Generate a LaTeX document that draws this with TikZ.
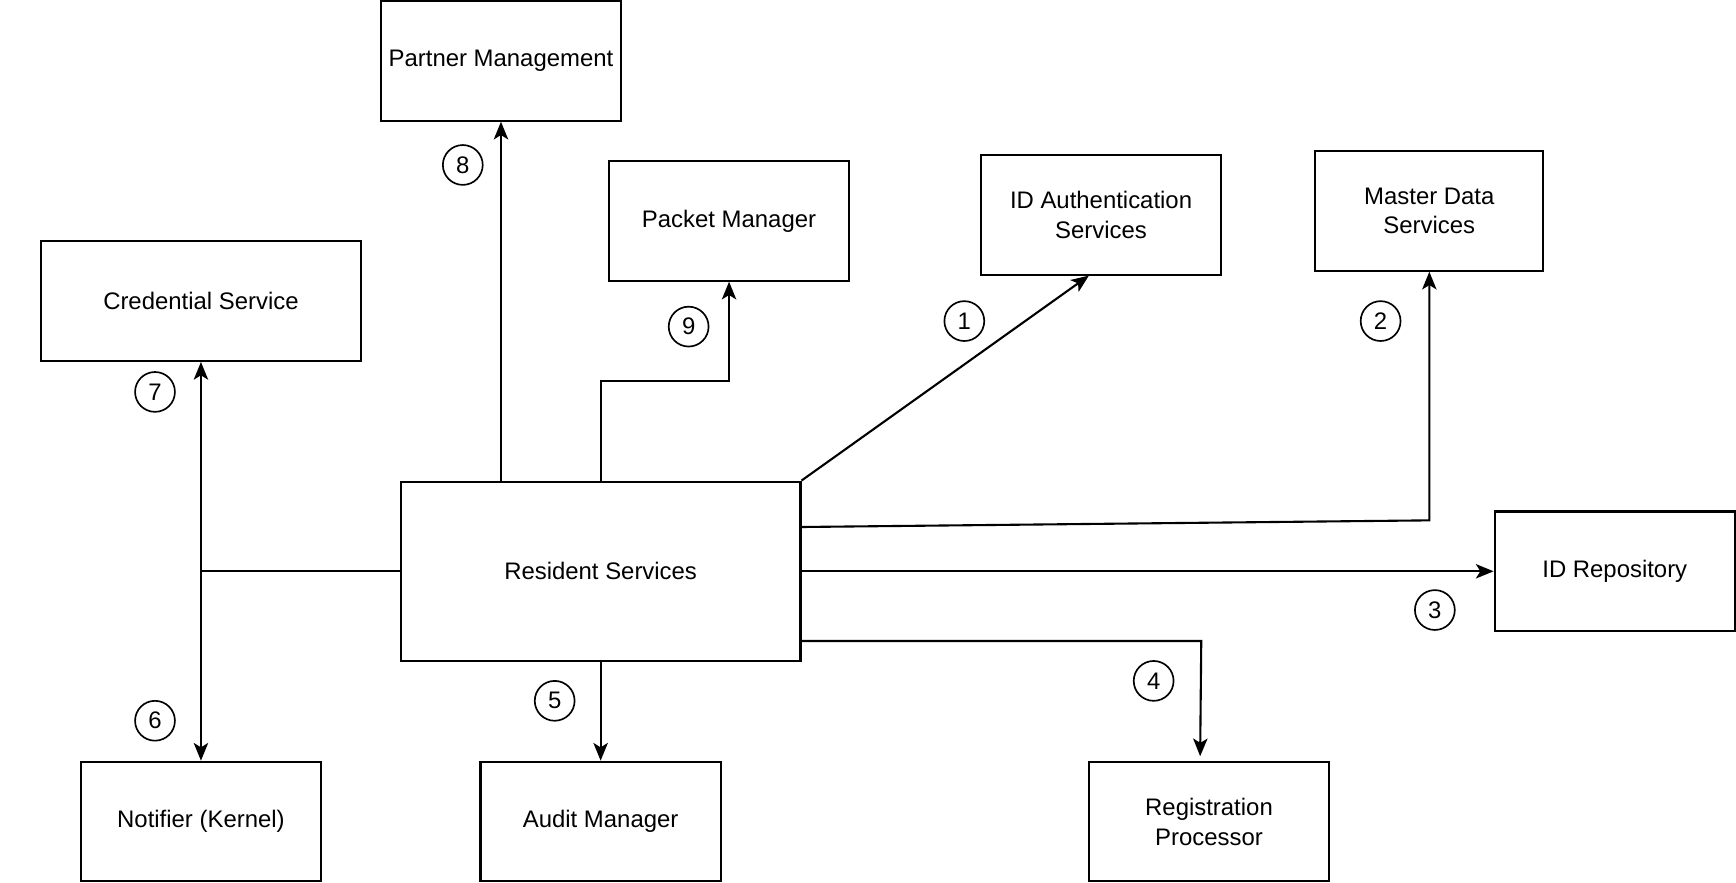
\documentclass[tikz,border=0pt]{standalone}
\usepackage{fontspec}
\setmainfont{Liberation Sans}
\usetikzlibrary{arrows.meta,calc}
\begin{document}
\begin{tikzpicture}[x=1pt,y=-1pt,line width=1.9pt,
    svcbox/.style={draw,rectangle,minimum width=217pt,minimum height=108pt,align=center,inner sep=2pt,
      font=\fontsize{21.6}{27}\selectfont},
    numtag/.style={draw,circle,line width=1.5pt,minimum size=36pt,inner sep=0pt,font=\fontsize{21.6}{26}\selectfont},
    arr/.style={-{Stealth[length=16pt,width=13pt,inset=4pt]}}]
        \useasboundingbox (0,0) rectangle (1568,797);

        \node[svcbox] (pm) at (452.5,55) {Partner Management};
        \node[svcbox] (pkt) at (658.5,199.5) {Packet Manager};
        \node[svcbox] (ida) at (994.5,194) {ID Authentication\\Services};
        \node[svcbox,minimum width=206pt] (mds) at (1291,190.5) {Master Data\\Services};
        \node[svcbox,minimum width=289pt] (cred) at (181.5,272) {Credential Service};
        \node[svcbox,minimum width=361pt,minimum height=162pt] (res) at (542.5,516) {Resident Services};
        \node[svcbox] (idr) at (1458.5,516) {ID Repository};
        \node[svcbox] (ntf) at (181.5,742) {Notifier (Kernel)};
        \node[svcbox] (aud) at (542.5,742) {Audit Manager};
        \node[svcbox,minimum width=216pt] (reg) at (1092,742) {Registration\\Processor};

        \node[numtag] (n1) at (871,290) {1};
        \node[numtag] (n2) at (1247,290) {2};
        \node[numtag] (n3) at (1296,551) {3};
        \node[numtag] (n4) at (1042,615) {4};
        \node[numtag] (n5) at (501,633) {5};
        \node[numtag] (n6) at (140,651) {6};
        \node[numtag] (n7) at (140,354) {7};
        \node[numtag] (n8) at (418,149) {8};
        \node[numtag] (n9) at (622,295) {9};

        \coordinate (j) at (cred.south |- res.west);
        \draw (res.west) -- (j);
        \draw[arr] (j) -- (cred.south);
        \draw[arr] (j) -- (ntf.north);

        \draw[arr] (pm.south |- res.north) -- (pm.south);
        \draw[arr] (res.north) -- ++(0,-90) -| (pkt.south);
        \draw[arr] (res.north east) -- ([xshift=-11pt]ida.south);
        \draw[arr] ([yshift=40pt]res.east) -- (mds.south |- 0,470) -- (mds.south);
        \draw[arr] (res.east) -- (idr.west);
        \draw[arr] ([yshift=-63pt]res.east) -- (1085,579) -- ([xshift=-8pt,yshift=4pt]reg.north);
        \draw[arr] (res.south) -- (aud.north);
    \end{tikzpicture}
\end{document}
